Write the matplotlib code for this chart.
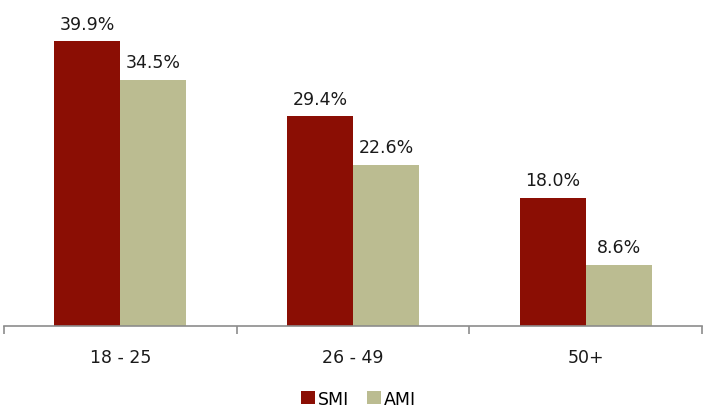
import matplotlib
matplotlib.use("Agg")
import matplotlib.pyplot as plt
import numpy as np

categories = ["18 - 25", "26 - 49", "50+"]
smi = [39.9, 29.4, 18.0]
ami = [34.5, 22.6, 8.6]
series_names = ["SMI", "AMI"]
colors = ["#8B0E04", "#BBBC91"]

plt.rcParams['font.family'] = ['DejaVu Sans']
fig = plt.figure(figsize=(7.03, 4.14), dpi=100)
ax = fig.add_axes([4/703, 87/414, 698/703, 314/414])

x = np.arange(len(categories))
w = 0.284
b1 = ax.bar(x - w/2, smi, w, color=colors[0], label=series_names[0])
b2 = ax.bar(x + w/2, ami, w, color=colors[1], label=series_names[1])
for bars, vals in ((b1, smi), (b2, ami)):
    for r, v in zip(bars, vals):
        ax.text(r.get_x() + r.get_width()/2, v + 1.2, f"{v:.1f}%",
                ha="center", va="bottom", fontsize=12.5, color="#1a1a1a")

ax.set_xlim(-0.5, 2.5)
ax.set_ylim(0, 44)
ax.set_yticks([])
for s in ["top", "right", "left"]:
    ax.spines[s].set_visible(False)
ax.spines["bottom"].set_color("#8c8c8c")
ax.spines["bottom"].set_linewidth(1.2)
ax.set_xticks(x)
ax.set_xticklabels(categories, fontsize=12.5, color="#1a1a1a")
ax.tick_params(axis="x", which="major", length=0, pad=16)
ax.set_xticks([-0.5, 0.5, 1.5, 2.5], minor=True)
ax.tick_params(axis="x", which="minor", length=6, color="#8c8c8c", width=1.2)

fig.legend(handles=[b1, b2], labels=series_names, loc="lower center",
           bbox_to_anchor=(0.51, -0.025), ncol=2, frameon=False, fontsize=12.5,
           handlelength=0.8, handleheight=0.8, handletextpad=0.2, columnspacing=1.0)

fig.savefig("out.png", dpi=100)
